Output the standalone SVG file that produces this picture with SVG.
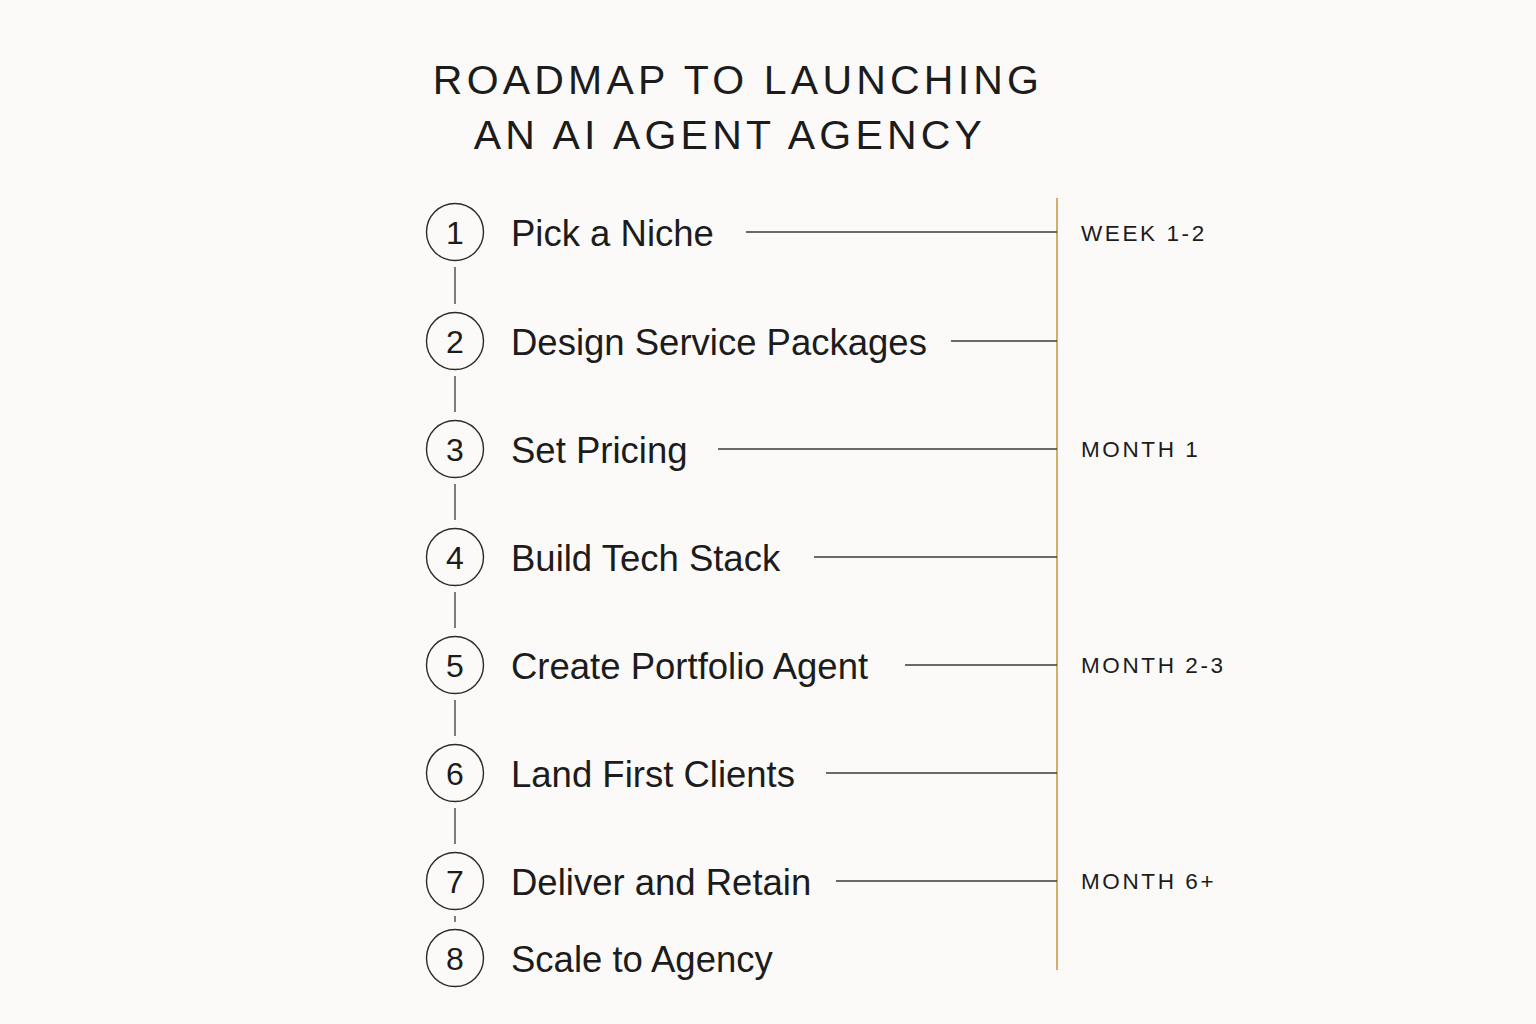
<svg xmlns="http://www.w3.org/2000/svg" width="1536" height="1024" viewBox="0 0 1536 1024">
<style>
.bg{fill:#fbfaf8}
.title{font-family:"Liberation Sans",Arial,sans-serif;font-size:41px;letter-spacing:4.2px;fill:#1c1c1c;text-anchor:middle}
.num{font-family:"Liberation Sans",Arial,sans-serif;font-size:32px;fill:#1c1c1c;text-anchor:middle;dominant-baseline:central}
.lbl{font-family:"Liberation Sans",Arial,sans-serif;font-size:36.5px;fill:#1c1c1c;dominant-baseline:central}
.time{font-family:"Liberation Sans",Arial,sans-serif;font-size:22.5px;letter-spacing:2.6px;fill:#1c1c1c;dominant-baseline:central}
.circ{fill:none;stroke:#2a2a2a;stroke-width:1.4}
.conn{stroke:#3a3a3a;stroke-width:1.3;fill:none}
.gold{stroke:#d2a35a;stroke-width:1.8;fill:none}
</style>
<rect class="bg" x="0" y="0" width="1536" height="1024"/>
<g id="title">
<text class="title" x="738" y="94">ROADMAP TO LAUNCHING</text>
<text class="title" x="730" y="149">AN AI AGENT AGENCY</text>
</g>
<g id="connectors">
<line class="gold" x1="1057" y1="198" x2="1057" y2="970"/>
<line class="conn" x1="455" y1="267" x2="455" y2="304"/>
<line class="conn" x1="455" y1="376" x2="455" y2="412"/>
<line class="conn" x1="455" y1="484" x2="455" y2="520"/>
<line class="conn" x1="455" y1="592" x2="455" y2="628"/>
<line class="conn" x1="455" y1="700" x2="455" y2="736"/>
<line class="conn" x1="455" y1="808" x2="455" y2="844"/>
<line class="conn" x1="455" y1="916" x2="455" y2="922"/>
<line class="conn" x1="746" y1="232" x2="1057" y2="232"/>
<line class="conn" x1="951" y1="341" x2="1057" y2="341"/>
<line class="conn" x1="718" y1="449" x2="1057" y2="449"/>
<line class="conn" x1="814" y1="557" x2="1057" y2="557"/>
<line class="conn" x1="905" y1="665" x2="1057" y2="665"/>
<line class="conn" x1="826" y1="773" x2="1057" y2="773"/>
<line class="conn" x1="836" y1="881" x2="1057" y2="881"/>
</g>
<g id="step1"><circle class="circ" cx="455" cy="232" r="28.5"/><text class="num" x="455" y="233">1</text><text class="lbl" x="511" y="233">Pick a Niche</text></g>
<g id="step2"><circle class="circ" cx="455" cy="341" r="28.5"/><text class="num" x="455" y="342">2</text><text class="lbl" x="511" y="342">Design Service Packages</text></g>
<g id="step3"><circle class="circ" cx="455" cy="449" r="28.5"/><text class="num" x="455" y="450">3</text><text class="lbl" x="511" y="450">Set Pricing</text></g>
<g id="step4"><circle class="circ" cx="455" cy="557" r="28.5"/><text class="num" x="455" y="558">4</text><text class="lbl" x="511" y="558">Build Tech Stack</text></g>
<g id="step5"><circle class="circ" cx="455" cy="665" r="28.5"/><text class="num" x="455" y="666">5</text><text class="lbl" x="511" y="666">Create Portfolio Agent</text></g>
<g id="step6"><circle class="circ" cx="455" cy="773" r="28.5"/><text class="num" x="455" y="774">6</text><text class="lbl" x="511" y="774">Land First Clients</text></g>
<g id="step7"><circle class="circ" cx="455" cy="881" r="28.5"/><text class="num" x="455" y="882">7</text><text class="lbl" x="511" y="882">Deliver and Retain</text></g>
<g id="step8"><circle class="circ" cx="455" cy="958" r="28.5"/><text class="num" x="455" y="959">8</text><text class="lbl" x="511" y="959">Scale to Agency</text></g>
<g id="timeline">
<text class="time" x="1081" y="233">WEEK 1-2</text>
<text class="time" x="1081" y="449">MONTH 1</text>
<text class="time" x="1081" y="665">MONTH 2-3</text>
<text class="time" x="1081" y="881">MONTH 6+</text>
</g>
</svg>
